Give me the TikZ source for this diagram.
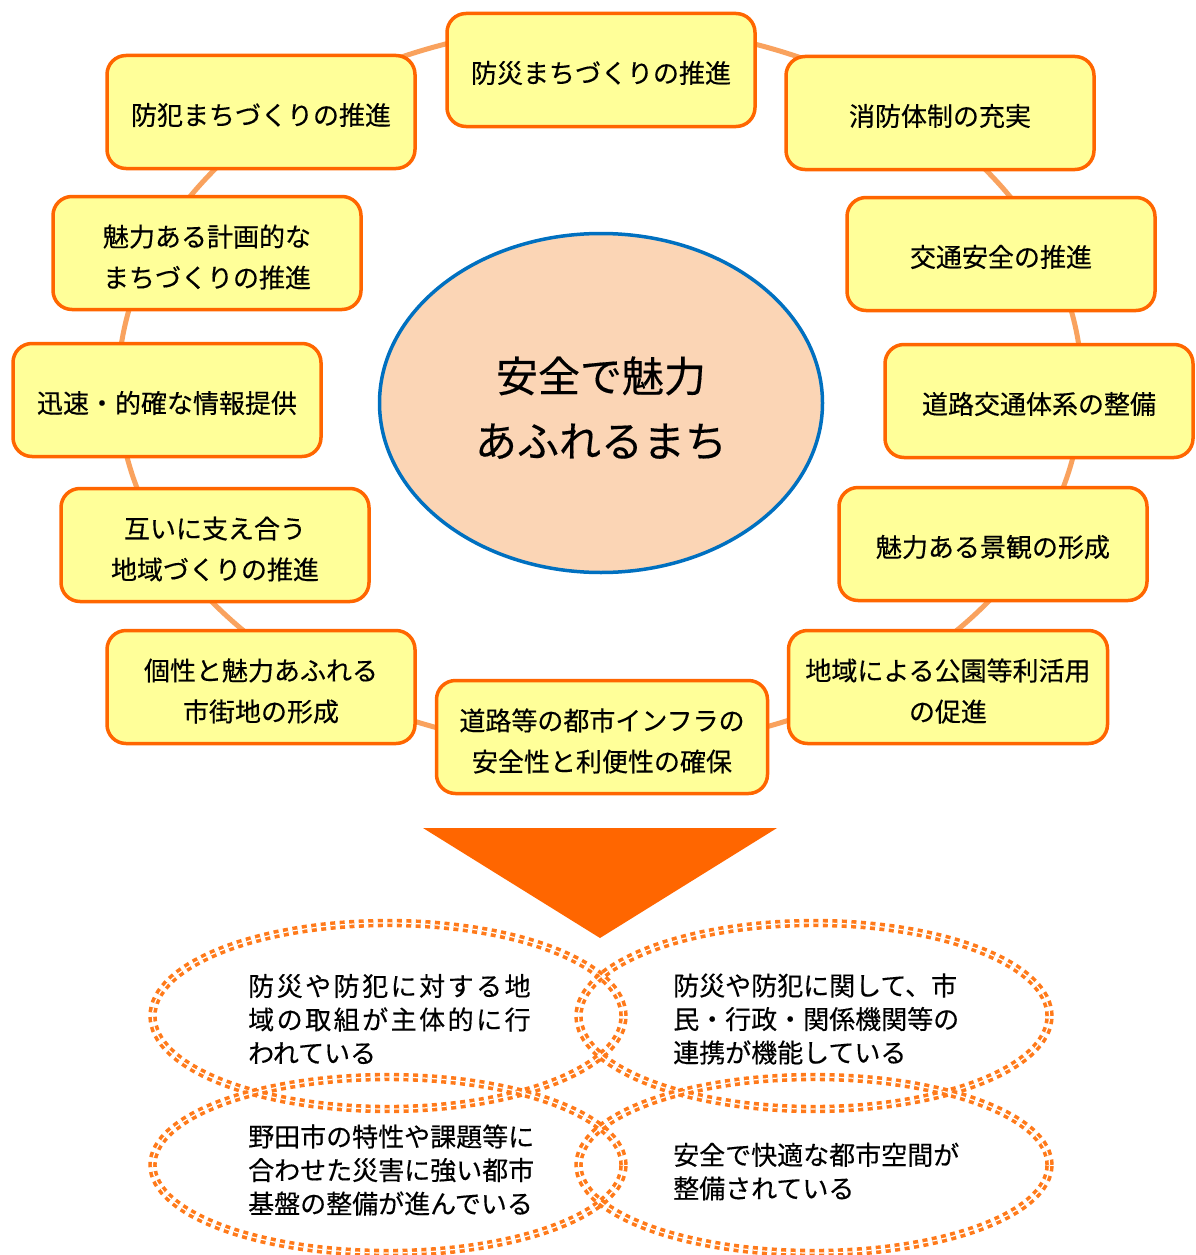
\documentclass[tikz,border=0pt]{standalone}
\usepackage{fontspec}
\newfontfamily\jp[FakeBold=0.35]{Noto Sans CJK JP}
\usetikzlibrary{shapes.geometric}
\definecolor{boxfill}{HTML}{FFFF99}
\definecolor{boxline}{HTML}{FF6600}
\definecolor{ringline}{HTML}{F9A25E}
\definecolor{centerfill}{HTML}{FBD5B5}
\definecolor{centerline}{HTML}{0070C0}
\definecolor{arrowfill}{HTML}{FF6600}
\definecolor{dashline}{HTML}{FF7A1A}
\tikzset{
  goalbox/.style={draw=boxline, fill=boxfill, rounded corners=19pt, line width=3.5pt,
    minimum width=308pt, minimum height=113pt, inner sep=0pt},
  boxtext/.style={align=center, inner sep=0pt, font=\jp\fontsize{26}{41}\selectfont},
  centerell/.style={ellipse, draw=centerline, fill=centerfill, line width=3.5pt,
    minimum width=443pt, minimum height=339pt, inner sep=0pt},
  centertext/.style={align=center, inner sep=0pt, font=\jp\fontsize{42}{65}\selectfont},
  resultell/.style={ellipse, draw=dashline, line width=3.6pt, double=white, double distance=1.2pt,
    dash pattern=on 5pt off 4.5pt, minimum width=471pt, minimum height=186pt, inner sep=0pt},
  resulttext/.style={anchor=west, align=left, inner sep=0pt, font=\jp\fontsize{26}{33.5}\selectfont},
  ringstyle/.style={draw=ringline, line width=5pt}
}
\newcommand{\spreadline}[1]{{\addfontfeature{LetterSpace=9.6}#1}}
\begin{document}
\begin{tikzpicture}[x=1pt,y=-1pt]
\useasboundingbox[fill=white] (0,0) rectangle (1196,1255);
% ring behind the boxes
\draw[ringstyle] (600,387) ellipse [x radius=482, y radius=362];
% central ellipse
\node[centerell] (center) at (601,403) {};
\node[centertext] (centerlabel) at ([yshift=-5pt]center.center) {安全で魅力\\あふれるまち};
% goal boxes
\node[goalbox] (b1) at (601,70) {};
\node[goalbox] (b2) at (940,113) {};
\node[goalbox] (b3) at (1001,254) {};
\node[goalbox] (b4) at (1039,401) {};
\node[goalbox] (b5) at (993,544) {};
\node[goalbox, minimum width=319pt] (b6) at (948,687) {};
\node[goalbox, minimum width=331pt] (b7) at (602,737) {};
\node[goalbox] (b8) at (261,687) {};
\node[goalbox] (b9) at (215,545) {};
\node[goalbox] (b10) at (167,400) {};
\node[goalbox] (b11) at (207,253) {};
\node[goalbox] (b12) at (261,112) {};
\node[boxtext] (t1) at ([yshift=-3pt]b1.center) {防災まちづくりの推進};
\node[boxtext] (t2) at ([yshift=-3pt]b2.center) {消防体制の充実};
\node[boxtext] (t3) at ([yshift=-3pt]b3.center) {交通安全の推進};
\node[boxtext] (t4) at ([yshift=-3pt]b4.center) {道路交通体系の整備};
\node[boxtext] (t5) at ([yshift=-3pt]b5.center) {魅力ある景観の形成};
\node[boxtext] (t6) at ([yshift=-4pt]b6.center) {地域による公園等利活用\\の促進};
\node[boxtext] (t7) at ([yshift=-4pt]b7.center) {道路等の都市インフラの\\安全性と利便性の確保};
\node[boxtext] (t8) at ([yshift=-4pt]b8.center) {個性と魅力あふれる\\市街地の形成};
\node[boxtext] (t9) at ([yshift=-4pt]b9.center) {互いに支え合う\\地域づくりの推進};
\node[boxtext] (t10) at ([yshift=-3pt]b10.center) {迅速・的確な情報提供};
\node[boxtext] (t11) at ([yshift=-4pt]b11.center) {魅力ある計画的な\\まちづくりの推進};
\node[boxtext] (t12) at ([yshift=-3pt]b12.center) {防犯まちづくりの推進};
% downward triangle
\fill[arrowfill] (423,828) -- (777,828) -- (600,938) -- cycle;
% result ellipses
\node[resultell] (r1) at (388,1016) {};
\node[resultell] (r2) at (814,1016) {};
\node[resultell, minimum height=176pt] (r3) at (388,1165) {};
\node[resultell, minimum height=176pt] (r4) at (814,1165) {};
\node[resulttext] (rt1) at (248,1019) {\spreadline{防災や防犯に対する地}\\\spreadline{域の取組が主体的に行}\\われている};
\node[resulttext] (rt2) at (673,1019) {防災や防犯に関して、市\\民・行政・関係機関等の\\連携が機能している};
\node[resulttext] (rt3) at (248,1170) {野田市の特性や課題等に\\合わせた災害に強い都市\\基盤の整備が進んでいる};
\node[resulttext] (rt4) at (673,1171.5) {安全で快適な都市空間が\\整備されている};
\end{tikzpicture}
\end{document}
